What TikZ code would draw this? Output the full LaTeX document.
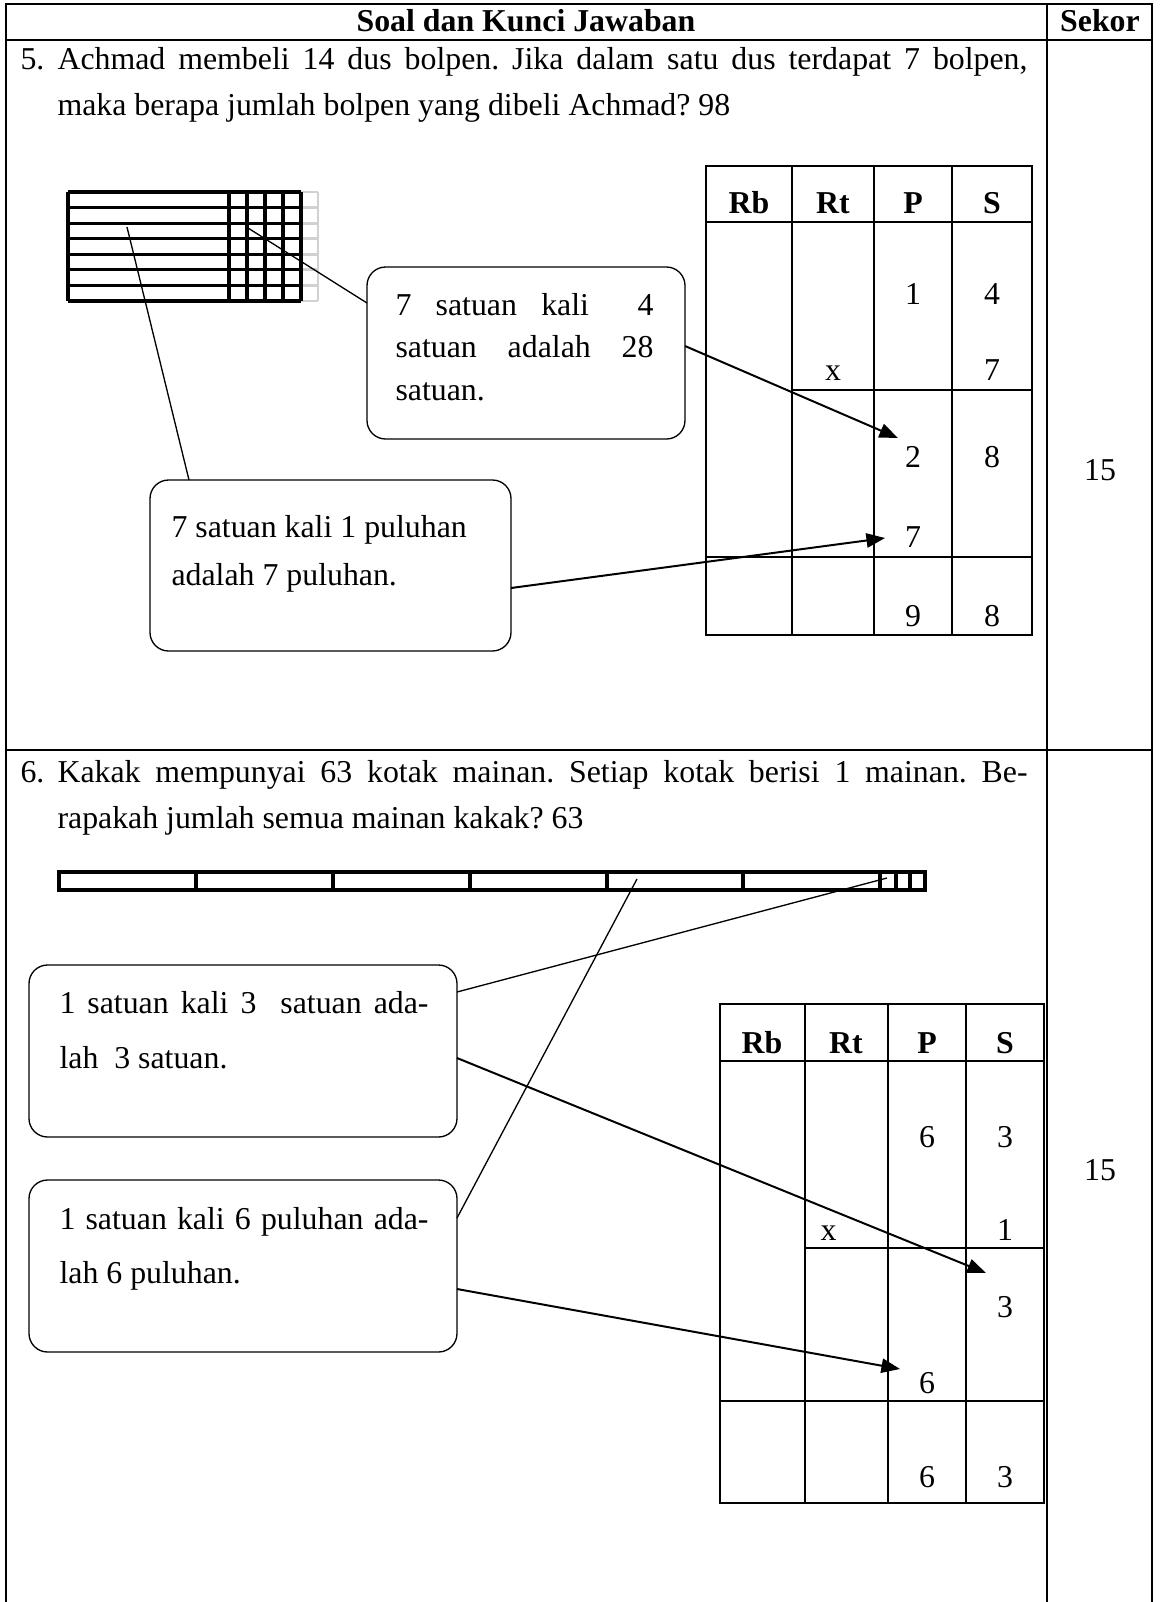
\documentclass[tikz,border=0pt]{standalone}
\usepackage{fontspec}
\setmainfont{Liberation Serif}
\usetikzlibrary{arrows.meta}
\newlength\pxu
\setlength\pxu{0.377pt}
\frenchspacing
\begin{document}
\frenchspacing
\begin{tikzpicture}[x=0.377pt,y=-0.377pt,
  font=\fontsize{12}{14}\selectfont,
  frame/.style={line width=0.8pt},
  cell/.style={line width=0.6pt},
  blk/.style={line width=1.2pt},
  ghost/.style={line width=1.1pt, draw=black!18},
  callout/.style={draw, rectangle, line width=0.5pt, rounded corners=7pt, inner sep=0pt},
  link/.style={line width=0.5pt},
  arr/.style={line width=0.75pt, -{Triangle[length=7pt,width=5.4pt]}},
  t/.style={anchor=base west, inner sep=0pt},
  c/.style={anchor=base, inner sep=0pt},
  hd/.style={anchor=base, inner sep=0pt, font=\fontsize{12}{14}\selectfont\bfseries}]
\useasboundingbox (0,0) rectangle (1163,1602);

% outer table
\draw[frame] (6,1602) -- (6,4) -- (1152,4) -- (1152,1602);
\draw[frame] (1047,4) -- (1047,1602);
\draw[frame] (6,40) -- (1152,40);
\draw[frame] (6,750) -- (1152,750);
\node[hd] (h1) at (526,31) {Soal dan Kunci Jawaban};
\node[hd] (h2) at (1100,31) {Sekor};
\node[c] (s5) at (1100,480) {15};
\node[c] (s6) at (1100,1180) {15};

% ---------- question 5 ----------
\node[t] (q5n) at (20,69) {5.};
\node[t] (q5a) at (57,69) {\makebox[970\pxu][s]{Achmad membeli 14 dus bolpen. Jika dalam satu dus terdapat 7 bolpen,}};
\node[t] (q5b) at (57,115) {maka berapa jumlah bolpen yang dibeli Achmad? 98};

% grid 14 x 7
\foreach \k in {0,...,7}{
  \draw[ghost] (301,{192+15.57*\k}) -- (318,{192+15.57*\k});
}
\draw[ghost] (318,192) -- (318,301);
\foreach \k in {0,...,7}{
  \draw[blk] (68,{192+15.57*\k}) -- (301,{192+15.57*\k});
}
\foreach \x in {68,229,247,265,283,301}{
  \draw[blk] (\x,192) -- (\x,301);
}
\coordinate (g1) at (127,227);
\coordinate (g2) at (248,228);

% callouts
\node[callout, minimum width=318\pxu, minimum height=172\pxu] (c1) at (526,353) {};
\node[t] (c1l1) at (395,315) {\makebox[258\pxu][s]{7 satuan kali\ \ 4}};
\node[t] (c1l2) at (395,357) {\makebox[258\pxu][s]{satuan adalah 28}};
\node[t] (c1l3) at (395,400) {satuan.};

\node[callout, minimum width=361\pxu, minimum height=171\pxu] (c2) at (330.5,565.5) {};
\node[t] (c2l1) at (171,537) {7 satuan kali 1 puluhan};
\node[t] (c2l2) at (171,585) {adalah 7 puluhan.};

\coordinate (c1in) at (367,303);
\coordinate (c1out) at (685,346);
\coordinate (c2in) at (189,480);
\coordinate (c2out) at (511,588);
\coordinate (t1a) at (898,438);
\coordinate (t1b) at (885,538);

% table 1
\draw[cell] (706,166) rectangle (1032,635);
\draw[cell] (706,222) -- (1032,222);
\foreach \x in {792,874,952}{\draw[cell] (\x,166) -- (\x,635);}
\draw[cell] (792,390) -- (1032,390);
\draw[cell] (706,557) -- (1032,557);
\node[hd] (a1) at (749,213) {Rb};
\node[hd] (a2) at (833,213) {Rt};
\node[hd] (a3) at (913,213) {P};
\node[hd] (a4) at (992,213) {S};
\node[c] (a5) at (913,304) {1};
\node[c] (a6) at (992,304) {4};
\node[c] (a7) at (833,380) {x};
\node[c] (a8) at (992,380) {7};
\node[c] (a9) at (913,467) {2};
\node[c] (a10) at (992,467) {8};
\node[c] (a11) at (913,547) {7};
\node[c] (a12) at (913,626) {9};
\node[c] (a13) at (992,626) {8};

\draw[link] (g2) -- (c1in);
\draw[link] (g1) -- (c2in);
\draw[arr] (c1out) -- (t1a);
\draw[arr] (c2out) -- (t1b);

% ---------- question 6 ----------
\node[t] (q6n) at (20,782) {6.};
\node[t] (q6a) at (57,782) {\makebox[970\pxu][s]{Kakak mempunyai 63 kotak mainan. Setiap kotak berisi 1 mainan. Be-}};
\node[t] (q6b) at (57,828) {rapakah jumlah semua mainan kakak? 63};

% bar of 63
\draw[blk] (59,872) rectangle (925,890);
\foreach \x in {196,333,470,607,743,880,896,910}{\draw[blk] (\x,872) -- (\x,890);}
\coordinate (b1) at (887,878);
\coordinate (b2) at (637,879);

\node[callout, minimum width=428\pxu, minimum height=172\pxu] (cA) at (243,1051) {};
\node[t] (cAl1) at (59,1013) {\makebox[369\pxu][s]{1 satuan kali 3\ \ satuan ada-}};
\node[t] (cAl2) at (59,1068) {lah\ \ 3 satuan.};

\node[callout, minimum width=428\pxu, minimum height=172\pxu] (cB) at (243,1266) {};
\node[t] (cBl1) at (59,1229) {\makebox[369\pxu][s]{1 satuan kali 6 puluhan ada-}};
\node[t] (cBl2) at (59,1283) {lah 6 puluhan.};

\coordinate (cAin) at (457,992);
\coordinate (cAout) at (457,1058);
\coordinate (cBin) at (457,1218);
\coordinate (cBout) at (457,1289);
\coordinate (t2a) at (986,1273);
\coordinate (t2b) at (900,1369);

% table 2
\draw[cell] (720,1004) rectangle (1044,1503);
\draw[cell] (720,1061) -- (1044,1061);
\foreach \x in {805,888,966}{\draw[cell] (\x,1004) -- (\x,1503);}
\draw[cell] (805,1248) -- (1044,1248);
\draw[cell] (720,1401) -- (1044,1401);
\node[hd] (b1h) at (762,1053) {Rb};
\node[hd] (b2h) at (846,1053) {Rt};
\node[hd] (b3h) at (927,1053) {P};
\node[hd] (b4h) at (1005,1053) {S};
\node[c] (n1) at (927,1147) {6};
\node[c] (n2) at (1005,1147) {3};
\node[t] (n3) at (820,1240) {x};
\node[c] (n4) at (1005,1240) {1};
\node[c] (n5) at (1005,1317) {3};
\node[c] (n6) at (927,1393) {6};
\node[c] (n7) at (927,1487) {6};
\node[c] (n8) at (1005,1487) {3};

\draw[link] (b1) -- (cAin);
\draw[link] (b2) -- (cBin);
\draw[arr] (cAout) -- (t2a);
\draw[arr] (cBout) -- (t2b);
\end{tikzpicture}
\end{document}
